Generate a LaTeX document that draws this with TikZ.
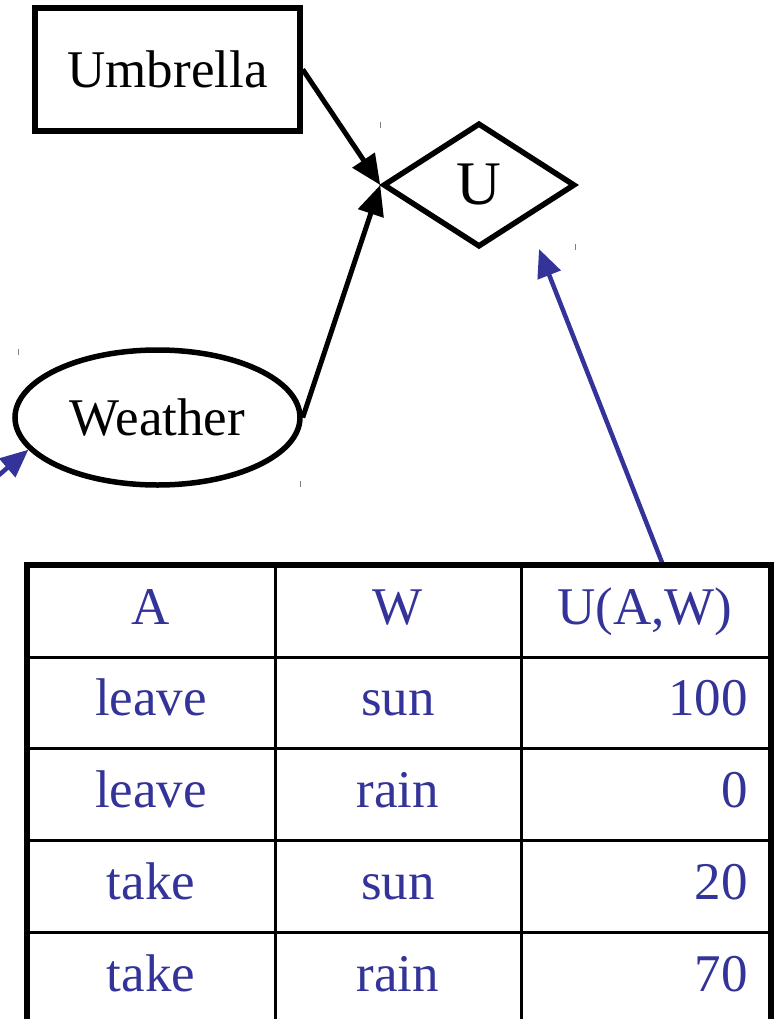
\documentclass[tikz,border=0pt]{standalone}
\usepackage{fontspec}
\setmainfont{Liberation Serif}
\usetikzlibrary{shapes.geometric,arrows.meta}
\definecolor{tblue}{HTML}{333399}
\tikzset{
  nodeline/.style={draw=black, line width=5.5pt, inner sep=0pt, font=\fontsize{53}{60}\selectfont},
  blackarr/.style={line width=5pt, -{Triangle[length=30pt,width=26pt]}},
  bluearr/.style={draw=tblue, line width=4.5pt, -{Triangle[length=28pt,width=24pt]}, tblue},
  tick/.style={draw=gray, line width=1pt},
  outerline/.style={line width=6pt},
  innerline/.style={line width=3pt},
  cell/.style={text=tblue, inner sep=0pt, anchor=base, font=\fontsize{53}{60}\selectfont},
  numcell/.style={text=tblue, inner sep=0pt, anchor=base east, font=\fontsize{53}{60}\selectfont},
}
\begin{document}
\begin{tikzpicture}[x=1pt,y=-1pt]
\useasboundingbox (0,0) rectangle (778,1019);

% nodes
\node[nodeline, rectangle, minimum width=265pt, minimum height=123pt] (Umb) at (167.5,69.5) {Umbrella};
\node[nodeline, diamond, minimum width=192pt, minimum height=124pt] (U) at (479,185) {\fontsize{62}{70}\selectfont U};
\node[nodeline, ellipse, minimum width=285pt, minimum height=135pt] (W) at (157.5,417.5) {Weather};

% tiny marks
\draw[tick] (380,122) -- (380,128);
\draw[tick] (575,244) -- (575,250);
\draw[tick] (18,349) -- (18,355);
\draw[tick] (300,481) -- (300,487);

% black arrows
\draw[blackarr] (Umb.east) -- (U.west);
\draw[blackarr] (W.east) -- (U.west);

% blue arrows
\coordinate (tabtop) at (663,565);
\coordinate (uarr) at (539,249);
\draw[bluearr] (tabtop) -- (uarr);
\coordinate (leftfree) at (-30,500);
\draw[bluearr] (leftfree) -- (W.194);

% table lines
\draw[innerline] (275,565) -- (275,1030);
\draw[innerline] (521,565) -- (521,1030);
\foreach \y in {657,748,840,932} {
  \draw[innerline] (27,\y) -- (771,\y);
}
\draw[outerline] (27,1030) -- (27,565) -- (771,565) -- (771,1030);

% table text
\node[cell] (hA) at (151,624) {A};
\node[cell] (hW) at (398,624) {W};
\node[cell] (hU) at (645,624) {U(A,W)};

\node[cell] (a1) at (151,715) {leave};
\node[cell] (w1) at (398,715) {sun};
\node[numcell] (u1) at (748,715) {100};

\node[cell] (a2) at (151,807) {leave};
\node[cell] (w2) at (398,807) {rain};
\node[numcell] (u2) at (748,807) {0};

\node[cell] (a3) at (151,899) {take};
\node[cell] (w3) at (398,899) {sun};
\node[numcell] (u3) at (748,899) {20};

\node[cell] (a4) at (151,991) {take};
\node[cell] (w4) at (398,991) {rain};
\node[numcell] (u4) at (748,991) {70};
\end{tikzpicture}
\end{document}
